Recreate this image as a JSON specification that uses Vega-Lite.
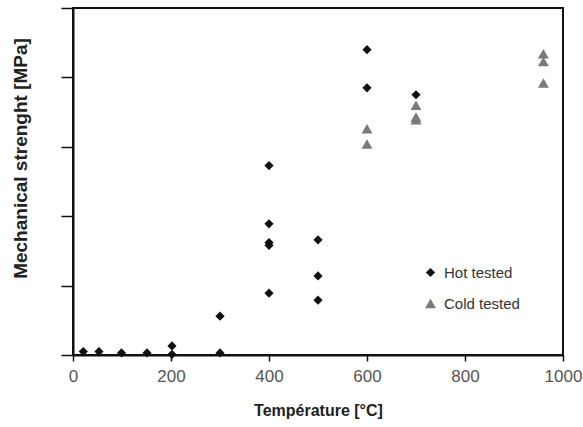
{
  "$schema": "https://vega.github.io/schema/vega-lite/v6.json",
  "autosize": "none",
  "padding": {"left": 73, "top": 8, "right": 20, "bottom": 72},
  "width": 490,
  "height": 347,
  "background": "white",
  "config": {
    "font": "Liberation Sans",
    "view": {"stroke": "#111", "strokeWidth": 2}
  },
  "data": {
    "values": [
      {"t": 21, "s": 0.5, "series": "Hot tested"},
      {"t": 53, "s": 0.5, "series": "Hot tested"},
      {"t": 99, "s": 0.3, "series": "Hot tested"},
      {"t": 151, "s": 0.3, "series": "Hot tested"},
      {"t": 202, "s": 1.3, "series": "Hot tested"},
      {"t": 202, "s": 0.1, "series": "Hot tested"},
      {"t": 300, "s": 5.6, "series": "Hot tested"},
      {"t": 300, "s": 0.3, "series": "Hot tested"},
      {"t": 400, "s": 27.3, "series": "Hot tested"},
      {"t": 400, "s": 18.9, "series": "Hot tested"},
      {"t": 400, "s": 16.2, "series": "Hot tested"},
      {"t": 400, "s": 15.8, "series": "Hot tested"},
      {"t": 400, "s": 8.9, "series": "Hot tested"},
      {"t": 500, "s": 16.6, "series": "Hot tested"},
      {"t": 500, "s": 11.4, "series": "Hot tested"},
      {"t": 500, "s": 7.9, "series": "Hot tested"},
      {"t": 600, "s": 44.0, "series": "Hot tested"},
      {"t": 600, "s": 38.5, "series": "Hot tested"},
      {"t": 700, "s": 37.5, "series": "Hot tested"},
      {"t": 600, "s": 32.6, "series": "Cold tested"},
      {"t": 600, "s": 30.4, "series": "Cold tested"},
      {"t": 700, "s": 36.0, "series": "Cold tested"},
      {"t": 700, "s": 34.3, "series": "Cold tested"},
      {"t": 700, "s": 33.9, "series": "Cold tested"},
      {"t": 960, "s": 43.4, "series": "Cold tested"},
      {"t": 960, "s": 42.3, "series": "Cold tested"},
      {"t": 960, "s": 39.2, "series": "Cold tested"}
    ]
  },
  "mark": {"type": "point", "filled": true, "opacity": 1},
  "encoding": {
    "x": {
      "field": "t", "type": "quantitative",
      "scale": {"domain": [0, 1000], "nice": false, "zero": false},
      "axis": {
        "title": "Température [°C]",
        "values": [0, 200, 400, 600, 800, 1000],
        "format": "d",
        "grid": false,
        "domainColor": "#111", "domainWidth": 2,
        "tickColor": "#111", "tickWidth": 1.5, "tickSize": 6,
        "labelFont": "Liberation Sans", "labelFontSize": 17, "labelColor": "#555",
        "labelPadding": 7, "labelFlush": false,
        "titleFont": "Liberation Sans", "titleFontSize": 16, "titleFontWeight": "bold",
        "titleColor": "#222", "titlePadding": 18
      }
    },
    "y": {
      "field": "s", "type": "quantitative",
      "scale": {"domain": [0, 50], "nice": false},
      "axis": {
        "title": "Mechanical strenght [MPa]",
        "values": [0, 10, 20, 30, 40, 50],
        "labels": false,
        "grid": false,
        "domainColor": "#111", "domainWidth": 2,
        "tickColor": "#111", "tickWidth": 1.5, "tickSize": 12,
        "titleFont": "Liberation Sans", "titleFontSize": 19, "titleFontWeight": "bold",
        "titleColor": "#222", "titlePadding": 30, "titleY": 150
      }
    },
    "shape": {
      "field": "series", "type": "nominal",
      "scale": {"domain": ["Hot tested", "Cold tested"], "range": ["diamond", "triangle-up"]},
      "legend": {
        "title": null, "orient": "none", "legendX": 350, "legendY": 257,
        "labelFontSize": 15, "labelColor": "#333", "labelFont": "Liberation Sans",
        "rowPadding": 15, "labelOffset": 6
      }
    },
    "color": {
      "field": "series", "type": "nominal",
      "scale": {"domain": ["Hot tested", "Cold tested"], "range": ["#111111", "#7a7a7a"]},
      "legend": {
        "title": null, "orient": "none", "legendX": 350, "legendY": 257,
        "labelFontSize": 15, "labelColor": "#333", "labelFont": "Liberation Sans",
        "rowPadding": 15, "labelOffset": 6
      }
    },
    "size": {
      "field": "series", "type": "nominal",
      "scale": {"domain": ["Hot tested", "Cold tested"], "range": [85, 120]},
      "legend": {
        "title": null, "orient": "none", "legendX": 350, "legendY": 257,
        "labelFontSize": 15, "labelColor": "#333", "labelFont": "Liberation Sans",
        "rowPadding": 15, "labelOffset": 6
      }
    }
  }
}
